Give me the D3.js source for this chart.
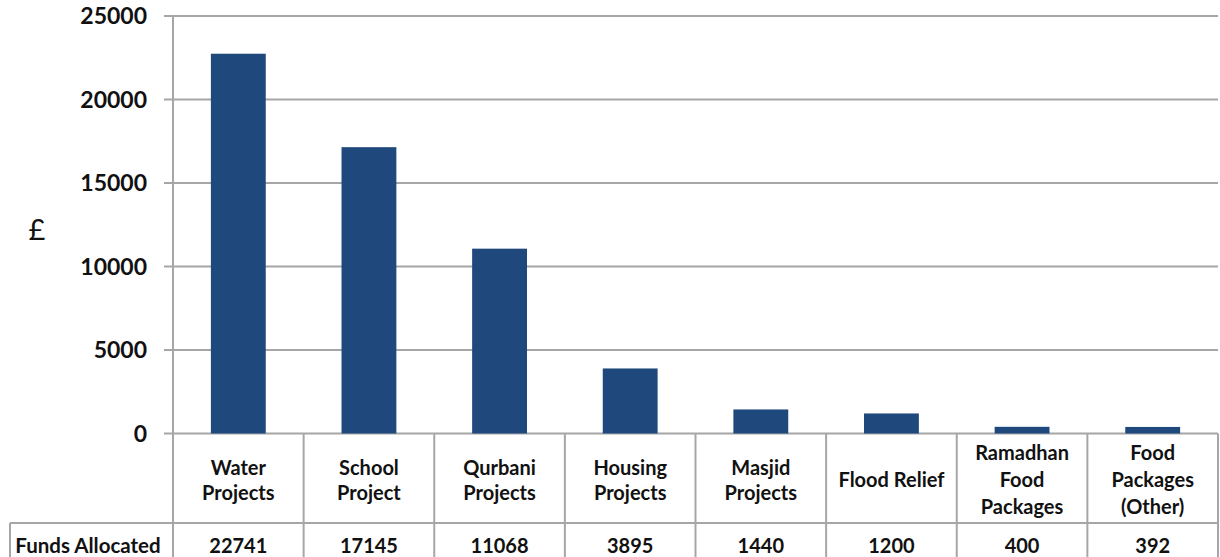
<!DOCTYPE html>
<html><head><meta charset="utf-8">
<script src="https://cdn.jsdelivr.net/npm/d3@7/dist/d3.min.js"></script>
<style>body{margin:0;background:#fff;} text{font-family:Lato, "Open Sans", sans-serif;font-weight:bold;fill:#111;}</style>
</head><body><svg id="c" width="1220" height="557"></svg>
<script>
const categories = [["Water","Projects"],["School","Project"],["Qurbani","Projects"],["Housing","Projects"],["Masjid","Projects"],["Flood Relief"],["Ramadhan","Food","Packages"],["Food","Packages","(Other)"]];
const values = [22741,17145,11068,3895,1440,1200,400,392];
const yTicks = [0,5000,10000,15000,20000,25000];
const rowLabel = "Funds Allocated";
const yLabel = "£";

const svg = d3.select("#c");
const leftX = 173, rightX = 1218, topY = 16, zeroY = 433.5;
const grid = "#a6a6a6";
const x = d3.scaleBand().domain(d3.range(values.length)).range([leftX, rightX]).paddingInner(0.58).paddingOuter(0.29);
const xCol = d3.scaleBand().domain(d3.range(values.length)).range([leftX, rightX]);
const y = d3.scaleLinear().domain([0, 25000]).range([zeroY, topY]);

// gridlines
svg.append("g").selectAll("line").data(yTicks).join("line")
  .attr("x1", leftX - 9).attr("x2", rightX).attr("y1", d => y(d)).attr("y2", d => y(d))
  .attr("stroke", grid).attr("stroke-width", 2);
// y axis line
svg.append("line").attr("x1", leftX).attr("x2", leftX).attr("y1", topY).attr("y2", 557).attr("stroke", grid).attr("stroke-width", 2);
// tick labels
svg.append("g").selectAll("text").data(yTicks).join("text")
  .attr("x", 147).attr("y", d => y(d)).attr("dy", "0.35em").attr("text-anchor", "end")
  .style("font-size", "23px").text(d => d);
svg.append("text").attr("x", 37).attr("y", 230).attr("dy", "0.35em").attr("text-anchor", "middle")
  .style("font-size", "29px").style("font-weight", "normal").text(yLabel);

// bars
svg.append("g").selectAll("rect").data(values).join("rect")
  .attr("x", (d, i) => x(i)).attr("width", x.bandwidth())
  .attr("y", d => y(d)).attr("height", d => zeroY - y(d))
  .attr("fill", "#1f497d");

// table
const rowY = 523;
svg.append("g").selectAll("line").data(d3.range(values.length + 1)).join("line")
  .attr("x1", i => i < values.length ? xCol(i) : rightX).attr("x2", i => i < values.length ? xCol(i) : rightX)
  .attr("y1", zeroY).attr("y2", 557).attr("stroke", grid).attr("stroke-width", 2);
svg.append("line").attr("x1", 10).attr("x2", rightX).attr("y1", rowY).attr("y2", rowY).attr("stroke", grid).attr("stroke-width", 2);
svg.append("line").attr("x1", 10).attr("x2", 10).attr("y1", rowY).attr("y2", 557).attr("stroke", grid).attr("stroke-width", 2);

const lab = svg.append("g").selectAll("text").data(categories).join("text")
  .attr("text-anchor", "middle").style("font-size", "20px")
  .attr("transform", (d, i) => `translate(${xCol(i) + xCol.bandwidth() / 2},${(zeroY + rowY) / 2 + 2})`);
lab.selectAll("tspan").data(d => d.map((t, j) => ({t, j, n: d.length}))).join("tspan")
  .attr("x", 0).attr("y", o => (o.j - (o.n - 1) / 2) * (o.n === 3 ? 27 : 25)).attr("dy", "0.35em").text(o => o.t);

svg.append("g").selectAll("text").data(values).join("text")
  .attr("x", (d, i) => xCol(i) + xCol.bandwidth() / 2).attr("y", 546).attr("dy", "0.35em")
  .attr("text-anchor", "middle").style("font-size", "20px").text(d => d);
svg.append("text").attr("x", 88).attr("y", 546).attr("dy", "0.35em").attr("text-anchor", "middle")
  .style("font-size", "20.5px").text(rowLabel);
</script></body></html>
